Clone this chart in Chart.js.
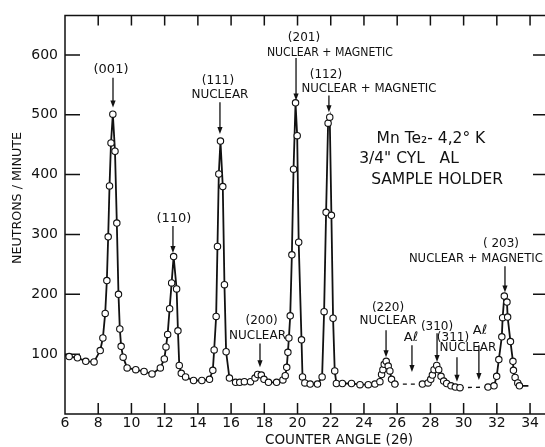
<!DOCTYPE html>
<html><head><meta charset="utf-8">
<script src="https://cdn.jsdelivr.net/npm/chart.js@4"></script>
<style>html,body{margin:0;padding:0;background:#fff;}#wrap{width:545px;height:447px;}</style>
</head><body><div id="wrap"><canvas id="c" width="545" height="447"></canvas></div>
<script>
// Counter angle (2θ, degrees) of each measured point
const angles = [6.0, 6.25, 6.75, 7.25, 7.75, 8.12, 8.28, 8.42, 8.52, 8.6, 8.68, 8.77, 8.88, 9.01, 9.12, 9.22, 9.3, 9.38, 9.5, 9.74,
  10.26, 10.76, 11.24, 11.74, 11.98, 12.08, 12.18, 12.3, 12.42, 12.54, 12.72, 12.8, 12.88, 13.0, 13.26, 13.74, 14.24, 14.7, 14.9, 14.98,
  15.1, 15.18, 15.26, 15.36, 15.5, 15.6, 15.7, 15.9, 16.27, 16.52, 16.8, 17.17, 17.44, 17.6, 17.82, 17.98, 18.25, 18.74, 19.12, 19.26,
  19.35, 19.42, 19.48, 19.56, 19.66, 19.76, 19.88, 19.98, 20.07, 20.24, 20.3, 20.44, 20.76, 21.2, 21.48, 21.6, 21.72, 21.84, 21.94, 22.04,
  22.14, 22.24, 22.34, 22.7, 23.25, 23.76, 24.26, 24.66, 24.96, 25.06, 25.14, 25.22, 25.34, 25.46, 25.56, 25.66, 25.86,
  27.52, 27.86, 28.02, 28.12, 28.22, 28.38, 28.5, 28.64, 28.8, 28.98, 29.24, 29.5, 29.78,
  31.47, 31.83, 31.99, 32.12, 32.3, 32.35, 32.45, 32.61, 32.65, 32.82, 32.97, 33.0, 33.1, 33.26, 33.36, 33.9];
// Neutrons per minute at each angle
const counts = [97, 96, 94, 88, 87, 106, 127, 168, 223, 296, 381, 453, 501, 439, 319, 200, 142, 113, 95, 77,
  74, 71, 67, 77, 92, 112, 133, 176, 219, 263, 209, 139, 81, 68, 62, 56, 56, 58, 73, 107,
  163, 280, 401, 456, 380, 216, 104, 60, 53, 53, 54, 54, 60, 66, 65, 58, 53, 53, 57, 64,
  78, 103, 127, 164, 266, 409, 520, 465, 287, 124, 62, 52, 50, 50, 62, 171, 337, 486, 496, 332,
  160, 72, 51, 51, 51, 49, 49, 50, 54, 66, 74, 83, 88, 80, 72, 58, 50,
  50, 52, 58, 65, 74, 81, 74, 63, 55, 51, 47, 45, 44,
  45, 47, 63, 91, 129, 161, 197, 187, 162, 121, 88, 73, 61, 52, 47, 47];
const xTickValues = [6, 8, 10, 12, 14, 16, 18, 20, 22, 24, 26, 28, 30, 32, 34];
const yTickValues = [100, 200, 300, 400, 500, 600];

const FONT = '"DejaVu Sans", sans-serif';
const INK = '#111';

const notes = [
  {t:'(001)', x:8.77, y:575, s:13},
  {t:'(110)', x:12.56, y:327, s:13},
  {t:'(111)', x:15.21, y:557, s:12},
  {t:'NUCLEAR', x:15.33, y:534, s:12},
  {t:'(200)', x:17.84, y:156, s:12},
  {t:'NUCLEAR', x:17.59, y:130, s:12},
  {t:'(201)', x:20.39, y:628, s:12},
  {t:'NUCLEAR + MAGNETIC', x:21.95, y:603, s:12, w:126},
  {t:'(112)', x:21.71, y:567, s:12},
  {t:'NUCLEAR + MAGNETIC', x:24.30, y:544, s:12, w:135},
  {t:'Mn Te\u2082- 4,2\u00b0 K', x:28.03, y:459, s:15.5},
  {t:'3/4" CYL   AL', x:26.71, y:426, s:15.5},
  {t:'SAMPLE HOLDER', x:28.40, y:391, s:15.5, w:135},
  {t:'(220)', x:25.45, y:178, s:12},
  {t:'NUCLEAR', x:25.45, y:156, s:12},
  {t:'A\u2113', x:26.83, y:128, s:13},
  {t:'(310)', x:28.40, y:146, s:12},
  {t:'(311)', x:29.36, y:128, s:12},
  {t:'NUCLEAR', x:30.26, y:110, s:12},
  {t:'A\u2113', x:30.98, y:140, s:13},
  {t:'( 203)', x:32.25, y:284, s:12},
  {t:'NUCLEAR + MAGNETIC', x:30.74, y:259, s:12, w:134}
];
const arrows = [
  {x:8.89, y0:562, y1:512}, {x:12.50, y0:314, y1:269}, {x:15.33, y0:521, y1:468},
  {x:17.74, y0:118, y1:78}, {x:19.91, y0:595, y1:524}, {x:21.89, y0:532, y1:504},
  {x:25.33, y0:140, y1:95}, {x:26.89, y0:115, y1:70}, {x:28.40, y0:135, y1:87},
  {x:29.60, y0:95, y1:54}, {x:30.92, y0:115, y1:57}, {x:32.49, y0:247, y1:203}
];

const framePlugin = {
  id: 'frame',
  beforeDatasetsDraw(chart) {
    const {ctx, chartArea: a, scales: {x, y}} = chart;
    ctx.save();
    ctx.strokeStyle = INK; ctx.lineWidth = 1.5;
    ctx.beginPath();
    ctx.moveTo(a.right, a.top); ctx.lineTo(a.left, a.top); ctx.lineTo(a.left, a.bottom); ctx.lineTo(a.right, a.bottom);
    xTickValues.forEach(v => {
      if (v === x.min) return;
      const px = x.getPixelForValue(v);
      ctx.moveTo(px, a.bottom); ctx.lineTo(px, a.bottom - 11);
      ctx.moveTo(px, a.top); ctx.lineTo(px, a.top + 10);
    });
    yTickValues.forEach(v => {
      const py = y.getPixelForValue(v);
      ctx.moveTo(a.left, py); ctx.lineTo(a.left + 15, py);
      ctx.moveTo(a.right, py); ctx.lineTo(a.right - 12, py);
    });
    ctx.stroke();
    ctx.restore();
  },
  afterDraw(chart) {
    const {ctx, chartArea: a, scales: {x, y}} = chart;
    ctx.save();
    ctx.fillStyle = INK; ctx.strokeStyle = INK;
    ctx.textAlign = 'center'; ctx.textBaseline = 'middle';
    notes.forEach(n => {
      ctx.font = n.s + 'px ' + FONT;
      const px = x.getPixelForValue(n.x), py = y.getPixelForValue(n.y);
      if (n.w) ctx.fillText(n.t, px, py, n.w); else ctx.fillText(n.t, px, py);
    });
    ctx.lineWidth = 1.3;
    arrows.forEach(ar => {
      const px = x.getPixelForValue(ar.x);
      const p0 = y.getPixelForValue(ar.y0), p1 = y.getPixelForValue(ar.y1);
      ctx.beginPath(); ctx.moveTo(px, p0); ctx.lineTo(px, p1 - 5); ctx.stroke();
      ctx.beginPath(); ctx.moveTo(px - 2.6, p1 - 7); ctx.lineTo(px + 2.6, p1 - 7); ctx.lineTo(px, p1); ctx.closePath(); ctx.fill();
    });
    // axis titles
    ctx.font = '13.5px ' + FONT;
    ctx.fillText('COUNTER ANGLE (2\u03b8)', 339, 440, 162);
    ctx.save();
    ctx.translate(18, 198); ctx.rotate(-Math.PI / 2);
    ctx.font = '13px ' + FONT;
    ctx.fillText('NEUTRONS / MINUTE', 0, 0, 132);
    ctx.restore();
    ctx.restore();
  }
};

const lastIdx = angles.length - 1;
new Chart(document.getElementById('c'), {
  type: 'scatter',
  data: {
    datasets: [{
      data: angles.map((a, i) => ({x: a, y: counts[i]})),
      showLine: true,
      borderColor: INK,
      borderWidth: 1.8,
      pointBackgroundColor: '#fff',
      pointBorderColor: INK,
      pointBorderWidth: 1.1,
      pointRadius: c => (c.dataIndex === 0 || c.dataIndex === lastIdx) ? 0 : 3.2,
      pointHoverRadius: 3.2,
      segment: {
        borderDash: c => (c.p1.parsed.x - c.p0.parsed.x > 1 ? [4, 4] : undefined),
        borderWidth: c => (c.p1.parsed.x - c.p0.parsed.x > 1 ? 1.4 : undefined)
      }
    }]
  },
  options: {
    responsive: false,
    animation: false,
    devicePixelRatio: 1,
    layout: {padding: {top: 12, right: 0, left: 0, bottom: 0}},
    plugins: {legend: {display: false}, tooltip: {enabled: false}},
    scales: {
      x: {
        type: 'linear', min: 6, max: 34.9,
        grid: {display: false, drawTicks: false}, border: {display: false},
        ticks: {font: {family: FONT, size: 14}, color: INK, padding: 1, maxRotation: 0, autoSkip: false},
        afterBuildTicks: s => { s.ticks = xTickValues.map(v => ({value: v})); },
        afterFit: s => { s.height = 33; }
      },
      y: {
        min: 0, max: 666,
        grid: {display: false, drawTicks: false}, border: {display: false},
        ticks: {font: {family: FONT, size: 14}, color: INK, padding: 7, autoSkip: false},
        afterBuildTicks: s => { s.ticks = yTickValues.map(v => ({value: v})); },
        afterFit: s => { s.width = 65; }
      }
    }
  },
  plugins: [framePlugin]
});
</script></body></html>
